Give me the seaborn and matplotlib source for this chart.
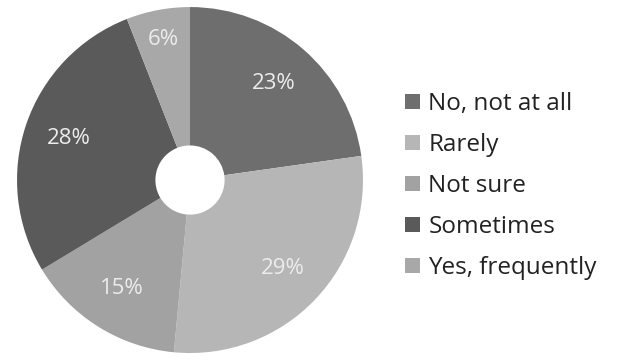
import matplotlib
matplotlib.use("Agg")
import matplotlib.pyplot as plt
import seaborn as sns

sns.set_theme(style="white")
plt.rcParams["font.family"] = ["Open Sans", "DejaVu Sans"]

# Survey answers and their shares (percent)
answers = ["No, not at all", "Rarely", "Not sure", "Sometimes", "Yes, frequently"]
shares = [23, 29, 15, 28, 6]
greys = ["#6e6e6e", "#b6b6b6", "#a2a2a2", "#5a5a5a", "#a8a8a8"]

fig = plt.figure(figsize=(6.25, 3.6), dpi=100)
fig.patch.set_facecolor("white")
ax = fig.add_axes([0.0272, 0.0194, 0.5536, 0.961])

wedges, texts, pcts = ax.pie(
    shares,
    colors=greys,
    startangle=90,
    counterclock=False,
    radius=1.0,
    autopct=lambda p: f"{p:.0f}%",
    pctdistance=0.74,
    wedgeprops=dict(width=0.8, edgecolor="none"),
    textprops=dict(color="#ececec", fontsize=16),
)
# the thin slice gets its label further out
x6, y6 = pcts[-1].get_position()
pcts[-1].set_position((x6 * 1.12, y6 * 1.12))

ax.set_xlim(-1, 1)
ax.set_ylim(-1, 1)
ax.set_aspect("equal")
ax.axis("off")

fig.legend(
    wedges, answers,
    loc="center left",
    bbox_to_anchor=(0.633, 0.483),
    borderaxespad=0,
    frameon=False,
    fontsize=17.5,
    handlelength=0.62,
    handleheight=0.62,
    handletextpad=0.33,
    labelspacing=0.7,
    labelcolor="#222222",
)

fig.savefig("out.png", dpi=100, facecolor="white")
